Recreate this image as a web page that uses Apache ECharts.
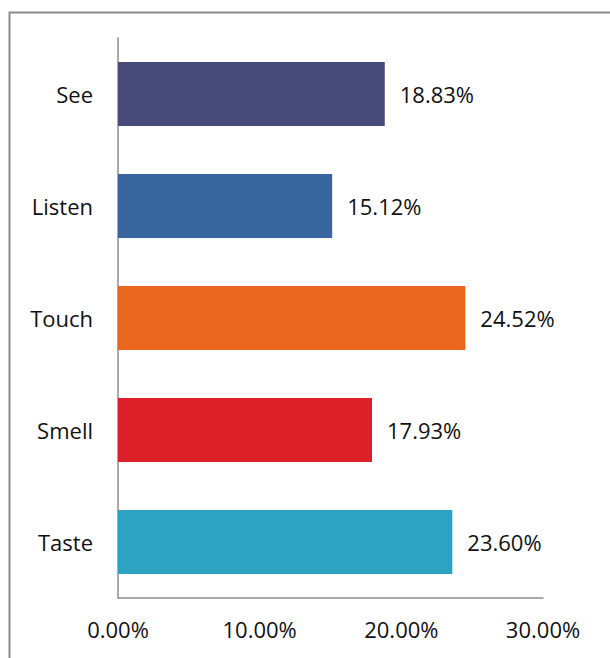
<!DOCTYPE html>
<html>
<head>
<meta charset="utf-8">
<style>html,body{margin:0;padding:0;background:#fff;}#c{width:610px;height:658px;}</style>
<script src="https://cdn.jsdelivr.net/npm/echarts@6/dist/echarts.min.js"></script>
</head>
<body>
<div id="c"></div>
<script>
const categories = ['See', 'Listen', 'Touch', 'Smell', 'Taste'];
const values = [18.83, 15.12, 24.52, 17.93, 23.60];
const barColors = ['#484B77', '#3A66A0', '#E8661E', '#DC1F28', '#2BA3C1'];
const xTicks = [0, 10, 20, 30];

const chart = echarts.init(document.getElementById('c'), null, {renderer: 'svg'});
const font = 'Open Sans';
chart.setOption({
  animation: false,
  graphic: [{
    type: 'rect', left: 7, top: 10,
    shape: {width: 640, height: 700},
    style: {fill: 'none', stroke: '#8c8c8c', lineWidth: 2}
  }],
  grid: {left: 118, right: 67, top: 38, bottom: 60, containLabel: false},
  xAxis: {
    type: 'value', min: xTicks[0], max: xTicks[xTicks.length - 1], interval: 10,
    axisLine: {show: true, lineStyle: {color: '#8c8c8c', width: 1.5}},
    axisTick: {show: false},
    splitLine: {show: false},
    axisLabel: {margin: 20, color: '#111', fontFamily: font, fontSize: 22,
      formatter: v => v.toFixed(2) + '%'}
  },
  yAxis: {
    type: 'category', data: categories, inverse: true,
    axisLine: {show: true, lineStyle: {color: '#8c8c8c', width: 1.5}},
    axisTick: {show: false},
    axisLabel: {margin: 25, color: '#111', fontFamily: font, fontSize: 22}
  },
  series: [{
    type: 'bar',
    data: values.map((v, i) => ({value: v, itemStyle: {color: barColors[i]}})),
    barCategoryGap: '43%',
    label: {show: true, position: 'right', distance: 15, color: '#111',
      fontFamily: font, fontSize: 22, formatter: p => p.value.toFixed(2) + '%'}
  }]
});
</script>
</body>
</html>
